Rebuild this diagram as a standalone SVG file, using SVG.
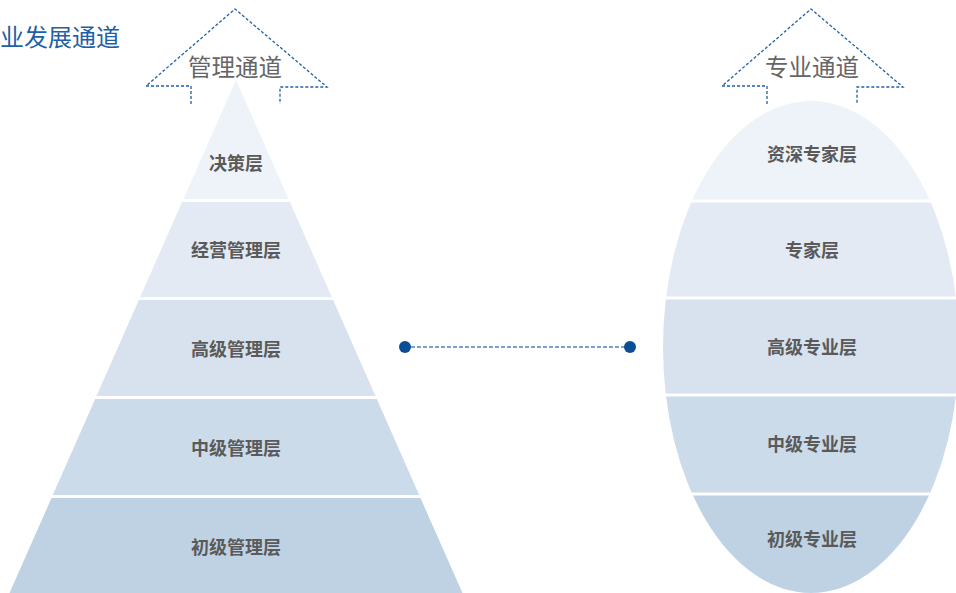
<svg xmlns="http://www.w3.org/2000/svg" width="956" height="593" viewBox="0 0 956 593">
<defs>
<style>
.lbl{font-family:"Noto Sans CJK SC","Noto Sans",sans-serif;font-size:18px;font-weight:bold;fill:#5a5a5a;text-anchor:middle;dominant-baseline:central}
.arrlbl{font-family:"Noto Sans CJK SC","Noto Sans",sans-serif;font-size:23.5px;fill:#666666;text-anchor:middle;dominant-baseline:central}
.title{font-family:"Noto Sans CJK SC","Noto Sans",sans-serif;font-size:24px;fill:#1f5fa6;dominant-baseline:central}
.arrow{fill:none;stroke:#1f5fa6;stroke-width:1.3;stroke-dasharray:3 2}
.c1{fill:#eef3f9}.c2{fill:#e3eaf3}.c3{fill:#d8e2ee}.c4{fill:#ccdbea}.c5{fill:#bfd2e4}
</style>
<clipPath id="ell"><ellipse cx="811" cy="347" rx="148" ry="246"/></clipPath>
</defs>
<rect width="956" height="593" fill="#ffffff"/>
<text class="title" x="0" y="35">业发展通道</text>

<g id="arrow-mgmt">
<path class="arrow" d="M191,104 V86 H146 L235,9 L327,87 H280 V104"/>
<text class="arrlbl" x="235" y="66">管理通道</text>
</g>
<g id="arrow-pro">
<path class="arrow" d="M767,104 V86 H722 L811,9 L903,87 H857 V104"/>
<text class="arrlbl" x="812" y="66">专业通道</text>
</g>

<g id="pyramid">
<g id="p1"><polygon class="c1" points="236,80 288.5,199 183.5,199"/><text class="lbl" x="236" y="162">决策层</text></g>
<g id="p2"><polygon class="c2" points="182.1,202 289.9,202 331.8,297 140.2,297"/><text class="lbl" x="236" y="249">经营管理层</text></g>
<g id="p3"><polygon class="c3" points="138.9,300 333.1,300 375.5,396 96.5,396"/><text class="lbl" x="236" y="348">高级管理层</text></g>
<g id="p4"><polygon class="c4" points="95.2,399 376.8,399 419.2,495 52.8,495"/><text class="lbl" x="236" y="447">中级管理层</text></g>
<g id="p5"><polygon class="c5" points="51.5,498 420.5,498 462.5,593 9.5,593"/><text class="lbl" x="236" y="546">初级管理层</text></g>
</g>

<g id="ellipse">
<g id="e1"><rect class="c1" x="660" y="100" width="300" height="99.5" clip-path="url(#ell)"/><text class="lbl" x="812" y="153">资深专家层</text></g>
<g id="e2"><rect class="c2" x="660" y="202.5" width="300" height="94" clip-path="url(#ell)"/><text class="lbl" x="812" y="249">专家层</text></g>
<g id="e3"><rect class="c3" x="660" y="299.5" width="300" height="94" clip-path="url(#ell)"/><text class="lbl" x="812" y="346">高级专业层</text></g>
<g id="e4"><rect class="c4" x="660" y="396.5" width="300" height="96" clip-path="url(#ell)"/><text class="lbl" x="812" y="443">中级专业层</text></g>
<g id="e5"><rect class="c5" x="660" y="495.5" width="300" height="98" clip-path="url(#ell)"/><text class="lbl" x="812" y="538">初级专业层</text></g>
</g>

<g id="connectors">
<line x1="405" y1="347" x2="630" y2="347" stroke="#4f84c0" stroke-width="1.5" stroke-dasharray="4 2"/>
<circle cx="405" cy="347" r="6" fill="#0b4e98"/>
<circle cx="630" cy="347" r="6" fill="#0b4e98"/>
</g>
</svg>
